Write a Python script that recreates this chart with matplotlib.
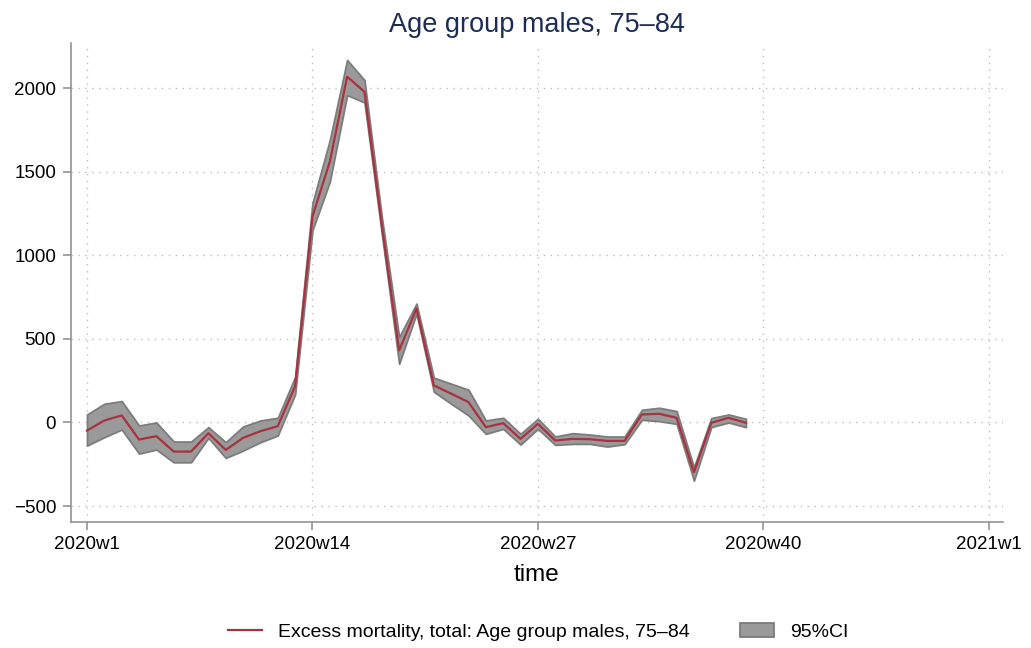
import numpy as np
import matplotlib
matplotlib.use("Agg")
import matplotlib.pyplot as plt
from matplotlib.lines import Line2D
from matplotlib.patches import Patch

plt.rcParams['font.family'] = ['Liberation Sans', 'DejaVu Sans']

# weeks 2020w1 .. 2020w39 (0 = 2020w1)
weeks = np.arange(39)
excess = [-48, 12, 42, -102, -82, -174, -174, -64, -164, -92, -52, -22, 217,
          1232, 1559, 2068, 1978, 1180, 431, 681, 222, 172, 122, -28, -4, -98,
          -8, -108, -98, -100, -110, -110, 48, 52, 28, -298, -2, 28, -2]
ci_upper = [48, 112, 128, -18, 0, -114, -114, -28, -118, -24, 12, 28, 272,
            1312, 1689, 2168, 2048, 1230, 511, 711, 268, 232, 196, 12, 28, -68,
            22, -84, -64, -72, -84, -84, 76, 88, 68, -268, 26, 48, 22]
ci_lower = [-138, -88, -42, -186, -162, -238, -238, -92, -212, -168, -118, -78, 168,
            1150, 1439, 1958, 1914, 1130, 351, 651, 184, 112, 42, -68, -38, -132,
            -38, -134, -128, -128, -144, -130, 16, 8, -8, -348, -28, 0, -28]

tick_pos = [0, 13, 26, 39, 52]
tick_labels = ['2020w1', '2020w14', '2020w27', '2020w40', '2021w1']
y_ticks = [-500, 0, 500, 1000, 1500, 2000]

fig = plt.figure(figsize=(10.31, 6.48), dpi=100)
ax = fig.add_axes([0.0686, 0.195, 0.904, 0.739])

band_col = '#9a9a9a'
edge_col = '#7c7c7c'
line_col = '#a8323e'

ax.fill_between(weeks, ci_lower, ci_upper, facecolor=band_col, edgecolor=edge_col,
                linewidth=1.3, zorder=2)
ax.plot(weeks, excess, color=line_col, linewidth=1.6, zorder=3)

ax.set_xlim(-0.94, 52.81)
ax.set_ylim(-593, 2271)
ax.set_xticks(tick_pos)
ax.set_xticklabels(tick_labels)
ax.set_yticks(y_ticks)

ax.grid(True, color='#bdbdbd', linestyle=(0, (1, 4)), linewidth=1.0, zorder=0)

for s in ['top', 'right']:
    ax.spines[s].set_visible(False)
for s in ['left', 'bottom']:
    ax.spines[s].set_color('#949494')
    ax.spines[s].set_linewidth(1.2)
ax.tick_params(axis='both', colors='#949494', length=6, width=1.2,
               labelsize=13.5, labelcolor='black', pad=4.5)

ax.set_xlabel('time', fontsize=17.5)
ax.xaxis.set_label_coords(0.5, -0.088)
ax.set_title('Age group males, 75\u201384', fontsize=19.5, color='#1c2d55', pad=8)

handles = [Line2D([0], [0], color=line_col, linewidth=1.6),
           Patch(facecolor=band_col, edgecolor=edge_col, linewidth=1.3)]
labels = ['Excess mortality, total: Age group males, 75\u201384', '95%CI']
fig.legend(handles, labels, loc='center', bbox_to_anchor=(0.522, 0.025), ncol=2,
           frameon=False, fontsize=14, handlelength=1.75, handletextpad=0.8,
           columnspacing=2.6)

fig.savefig('out.png', dpi=100)
